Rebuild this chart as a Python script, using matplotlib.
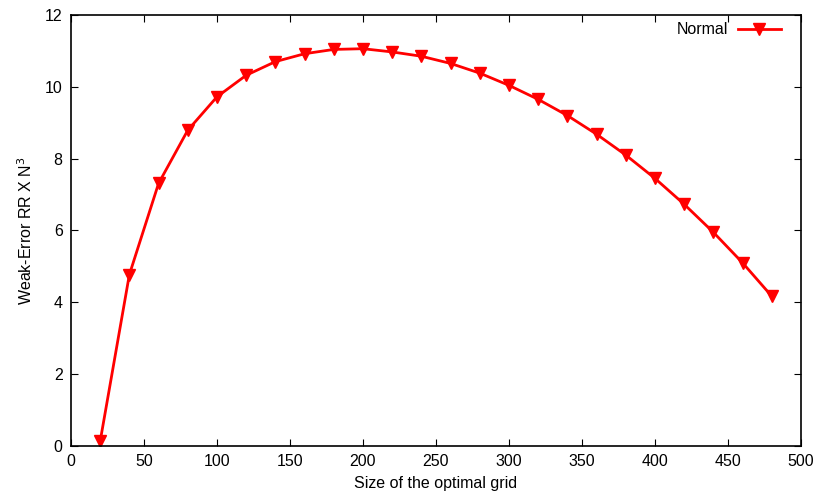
import matplotlib
matplotlib.use("Agg")
import matplotlib.pyplot as plt

# grid sizes and weak error values
grid_size = [20, 40, 60, 80, 100, 120, 140, 160, 180, 200, 220, 240,
             260, 280, 300, 320, 340, 360, 380, 400, 420, 440, 460, 480]
weak_error = [0.13, 4.77, 7.31, 8.79, 9.72, 10.32, 10.70, 10.92, 11.04, 11.06,
              10.97, 10.85, 10.65, 10.38, 10.04, 9.65, 9.20, 8.68, 8.10, 7.45,
              6.73, 5.95, 5.10, 4.17]

x_ticks = [0, 50, 100, 150, 200, 250, 300, 350, 400, 450, 500]
y_ticks = [0, 2, 4, 6, 8, 10, 12]

plt.rcParams['font.family'] = ['Liberation Sans', 'DejaVu Sans']
plt.rcParams['font.size'] = 11.5

fig = plt.figure(figsize=(8.3, 4.98), dpi=100)
ax = fig.add_axes([0.0855, 0.1044, 0.8795, 0.8656])

ax.plot(grid_size, weak_error, color='#ff0000', linewidth=2, marker='v',
        markersize=8, label='Normal')

ax.set_xlim(0, 500)
ax.set_ylim(0, 12)
ax.set_xticks(x_ticks)
ax.set_yticks(y_ticks)
ax.tick_params(direction='in', top=True, right=True, length=5, width=0.8,
               pad=6, labelsize=11.5)
for spine in ax.spines.values():
    spine.set_linewidth(1.2)

ax.set_xlabel('Size of the optimal grid', fontsize=11.5, labelpad=5)
ax.set_ylabel('Weak-Error RR X N$^3$', fontsize=11.5, labelpad=7)

ax.legend(loc='upper right', bbox_to_anchor=(0.988, 1.009), frameon=False,
          markerfirst=False, handlelength=2.7, handletextpad=0.6,
          fontsize=11.5, borderaxespad=0.3)

fig.savefig('out.png', dpi=100)
